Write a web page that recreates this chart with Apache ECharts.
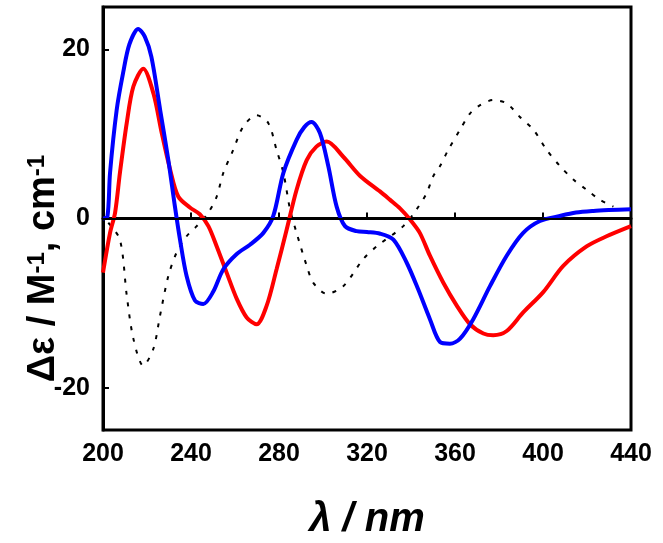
<!DOCTYPE html>
<html>
<head>
<meta charset="utf-8">
<script src="https://cdn.jsdelivr.net/npm/echarts@6/dist/echarts.min.js"></script>
<style>
  html, body { margin: 0; padding: 0; background: #fff; }
  #chart { width: 663px; height: 543px; }
</style>
</head>
<body>
<div id="chart"></div>
<script>
// wavelengths (nm) and Δε values
var blueWl = [200, 202, 203.2, 206.2, 209.2, 212, 216, 219, 222, 226, 229.7, 232.7, 235, 238, 241.8, 245.6, 250, 254.7, 260.8, 266.8, 272.9, 277.4, 282, 288, 291.5, 294.8, 298.6, 302.4, 306.2, 310, 315.3, 320, 326, 332, 338, 343.3, 348.6, 353.2, 357.7, 362.3, 368.3, 375.9, 383.5, 391, 398.6, 407.7, 415, 422.9, 430, 440];
var blueDe = [0, 0.2, 5.4, 12.8, 17.3, 20.6, 22.4, 21.5, 19.1, 12.8, 6.9, 1.4, -2.5, -6.8, -9.7, -10.1, -8.7, -6, -4.2, -3.1, -1.7, 0.3, 5.4, 9.3, 10.8, 11.4, 10.1, 6.2, 1.4, -0.9, -1.5, -1.6, -1.8, -2.5, -5.2, -8.4, -11.9, -14.6, -14.8, -14.2, -11.9, -8, -4.4, -1.7, -0.3, 0.3, 0.7, 0.9, 1.0, 1.1];

var redWl = [200, 203.2, 205.5, 207.7, 210.8, 213.8, 218.3, 222.9, 226.7, 230.5, 234.2, 239.5, 244, 247.9, 251.7, 256.2, 260.8, 265.3, 269.8, 274.4, 278.9, 283.5, 288, 292.6, 297, 301.7, 309.2, 317, 325.9, 330.5, 335, 339.5, 344, 348.6, 354.7, 360.8, 366.8, 372.9, 377.4, 383.5, 391, 400.1, 409.2, 419.8, 428.9, 440];
var redDe = [-6.4, -1.7, 0.7, 5.4, 11.3, 15.6, 17.7, 14.8, 10.1, 5.8, 2.6, 1.3, 0.5, -0.9, -3.3, -6.4, -9.5, -11.7, -12.5, -10.3, -6, -1.3, 3.4, 6.9, 8.5, 9.1, 7.3, 5.0, 3.2, 2.2, 1.2, -0.1, -1.7, -4.4, -7.6, -10.3, -12.5, -13.6, -13.8, -13.3, -11.1, -8.7, -5.6, -3.3, -2.1, -0.9];

var dotWl = [202.4, 207.7, 210.8, 213.8, 218.3, 222.9, 225.9, 229.7, 233.5, 238, 242.6, 247.9, 251.7, 254.7, 259.2, 263.8, 269.8, 275.1, 278.9, 282, 285, 288, 292.6, 295.6, 301.7, 309.2, 318.3, 324.4, 336.5, 342.6, 347.1, 350.1, 353.2, 356.9, 362.3, 366.8, 371.4, 377.4, 383.5, 389.5, 395.6, 401.7, 407.7, 413.8, 419.8, 425.9, 432];
var dotDe = [-0.5, -2.5, -9.1, -14.2, -17.4, -15.4, -11.5, -6.8, -4, -2.1, -0.9, 0.7, 2.6, 5.4, 8.1, 10.9, 12.2, 11.3, 8.1, 5.4, 1.1, -1.7, -5.6, -7.6, -8.9, -8, -4.8, -3.3, -0.9, 1.1, 3, 5, 6.2, 8.1, 10.5, 12.4, 13.4, 14, 13.6, 12, 10.5, 8.1, 6.2, 4.6, 3.4, 2.2, 1.4];

var yTickVals = [-20, 0, 20];

function pairs(xs, ys) {
    var out = [];
    for (var i = 0; i < xs.length; i++) {
        out.push([xs[i], ys[i]]);
    }
    return out;
}

var font = 'Liberation Sans, Arial, sans-serif';
var chart = echarts.init(document.getElementById('chart'));

chart.setOption({
    animation: false,
    backgroundColor: '#fff',
    grid: {
        left: 103, right: 32, top: 7, bottom: 113,
        outerBoundsMode: 'none',
        show: true, borderColor: '#000', borderWidth: 3
    },
    xAxis: {
        type: 'value', min: 200, max: 440, interval: 40,
        name: 'λ / nm', nameLocation: 'middle', nameGap: 70, nameMoveOverlap: false,
        nameTextStyle: { fontFamily: font, fontSize: 40, fontWeight: 'bold', fontStyle: 'italic', color: '#000' },
        axisLine: { show: true, lineStyle: { color: '#000', width: 3 } },
        axisTick: { show: true, inside: true, length: 6, lineStyle: { color: '#000', width: 2 } },
        axisLabel: { margin: 12, fontFamily: font, fontSize: 25, fontWeight: 'bold', color: '#000' },
        splitLine: { show: false }
    },
    yAxis: {
        type: 'value', min: -25, max: 25, interval: 5,
        name: '{a|Δε / M}{s|-1}{a|, cm}{s|-1}',
        nameLocation: 'middle', nameRotate: 90, nameGap: 40, nameMoveOverlap: false,
        nameTextStyle: {
            padding: [0, 100, 0, 0],
            rich: {
                a: { fontFamily: font, fontSize: 38, fontWeight: 'bold', color: '#000' },
                s: { fontFamily: font, fontSize: 24, fontWeight: 'bold', color: '#000', verticalAlign: 'top' }
            }
        },
        axisLine: { show: true, lineStyle: { color: '#000', width: 3 } },
        axisTick: { show: true, inside: true, length: 6, customValues: yTickVals, lineStyle: { color: '#000', width: 2 } },
        axisLabel: { margin: 13, customValues: yTickVals, fontFamily: font, fontSize: 25, fontWeight: 'bold', color: '#000' },
        splitLine: { show: false }
    },
    series: [
        {
            name: 'dotted', type: 'line', data: pairs(dotWl, dotDe),
            showSymbol: false, smooth: 0.3,
            lineStyle: { color: '#000', width: 2, type: [4, 8] },
            markLine: {
                silent: true, symbol: 'none', label: { show: false },
                lineStyle: { color: '#000', width: 2, type: 'solid' },
                data: [{ yAxis: 0 }]
            }
        },
        {
            name: 'red', type: 'line', data: pairs(redWl, redDe),
            showSymbol: false, smooth: 0.3,
            lineStyle: { color: '#ff0000', width: 4 }
        },
        {
            name: 'blue', type: 'line', data: pairs(blueWl, blueDe),
            showSymbol: false, smooth: 0.3,
            lineStyle: { color: '#0000ff', width: 4 }
        }
    ]
});
</script>
</body>
</html>
